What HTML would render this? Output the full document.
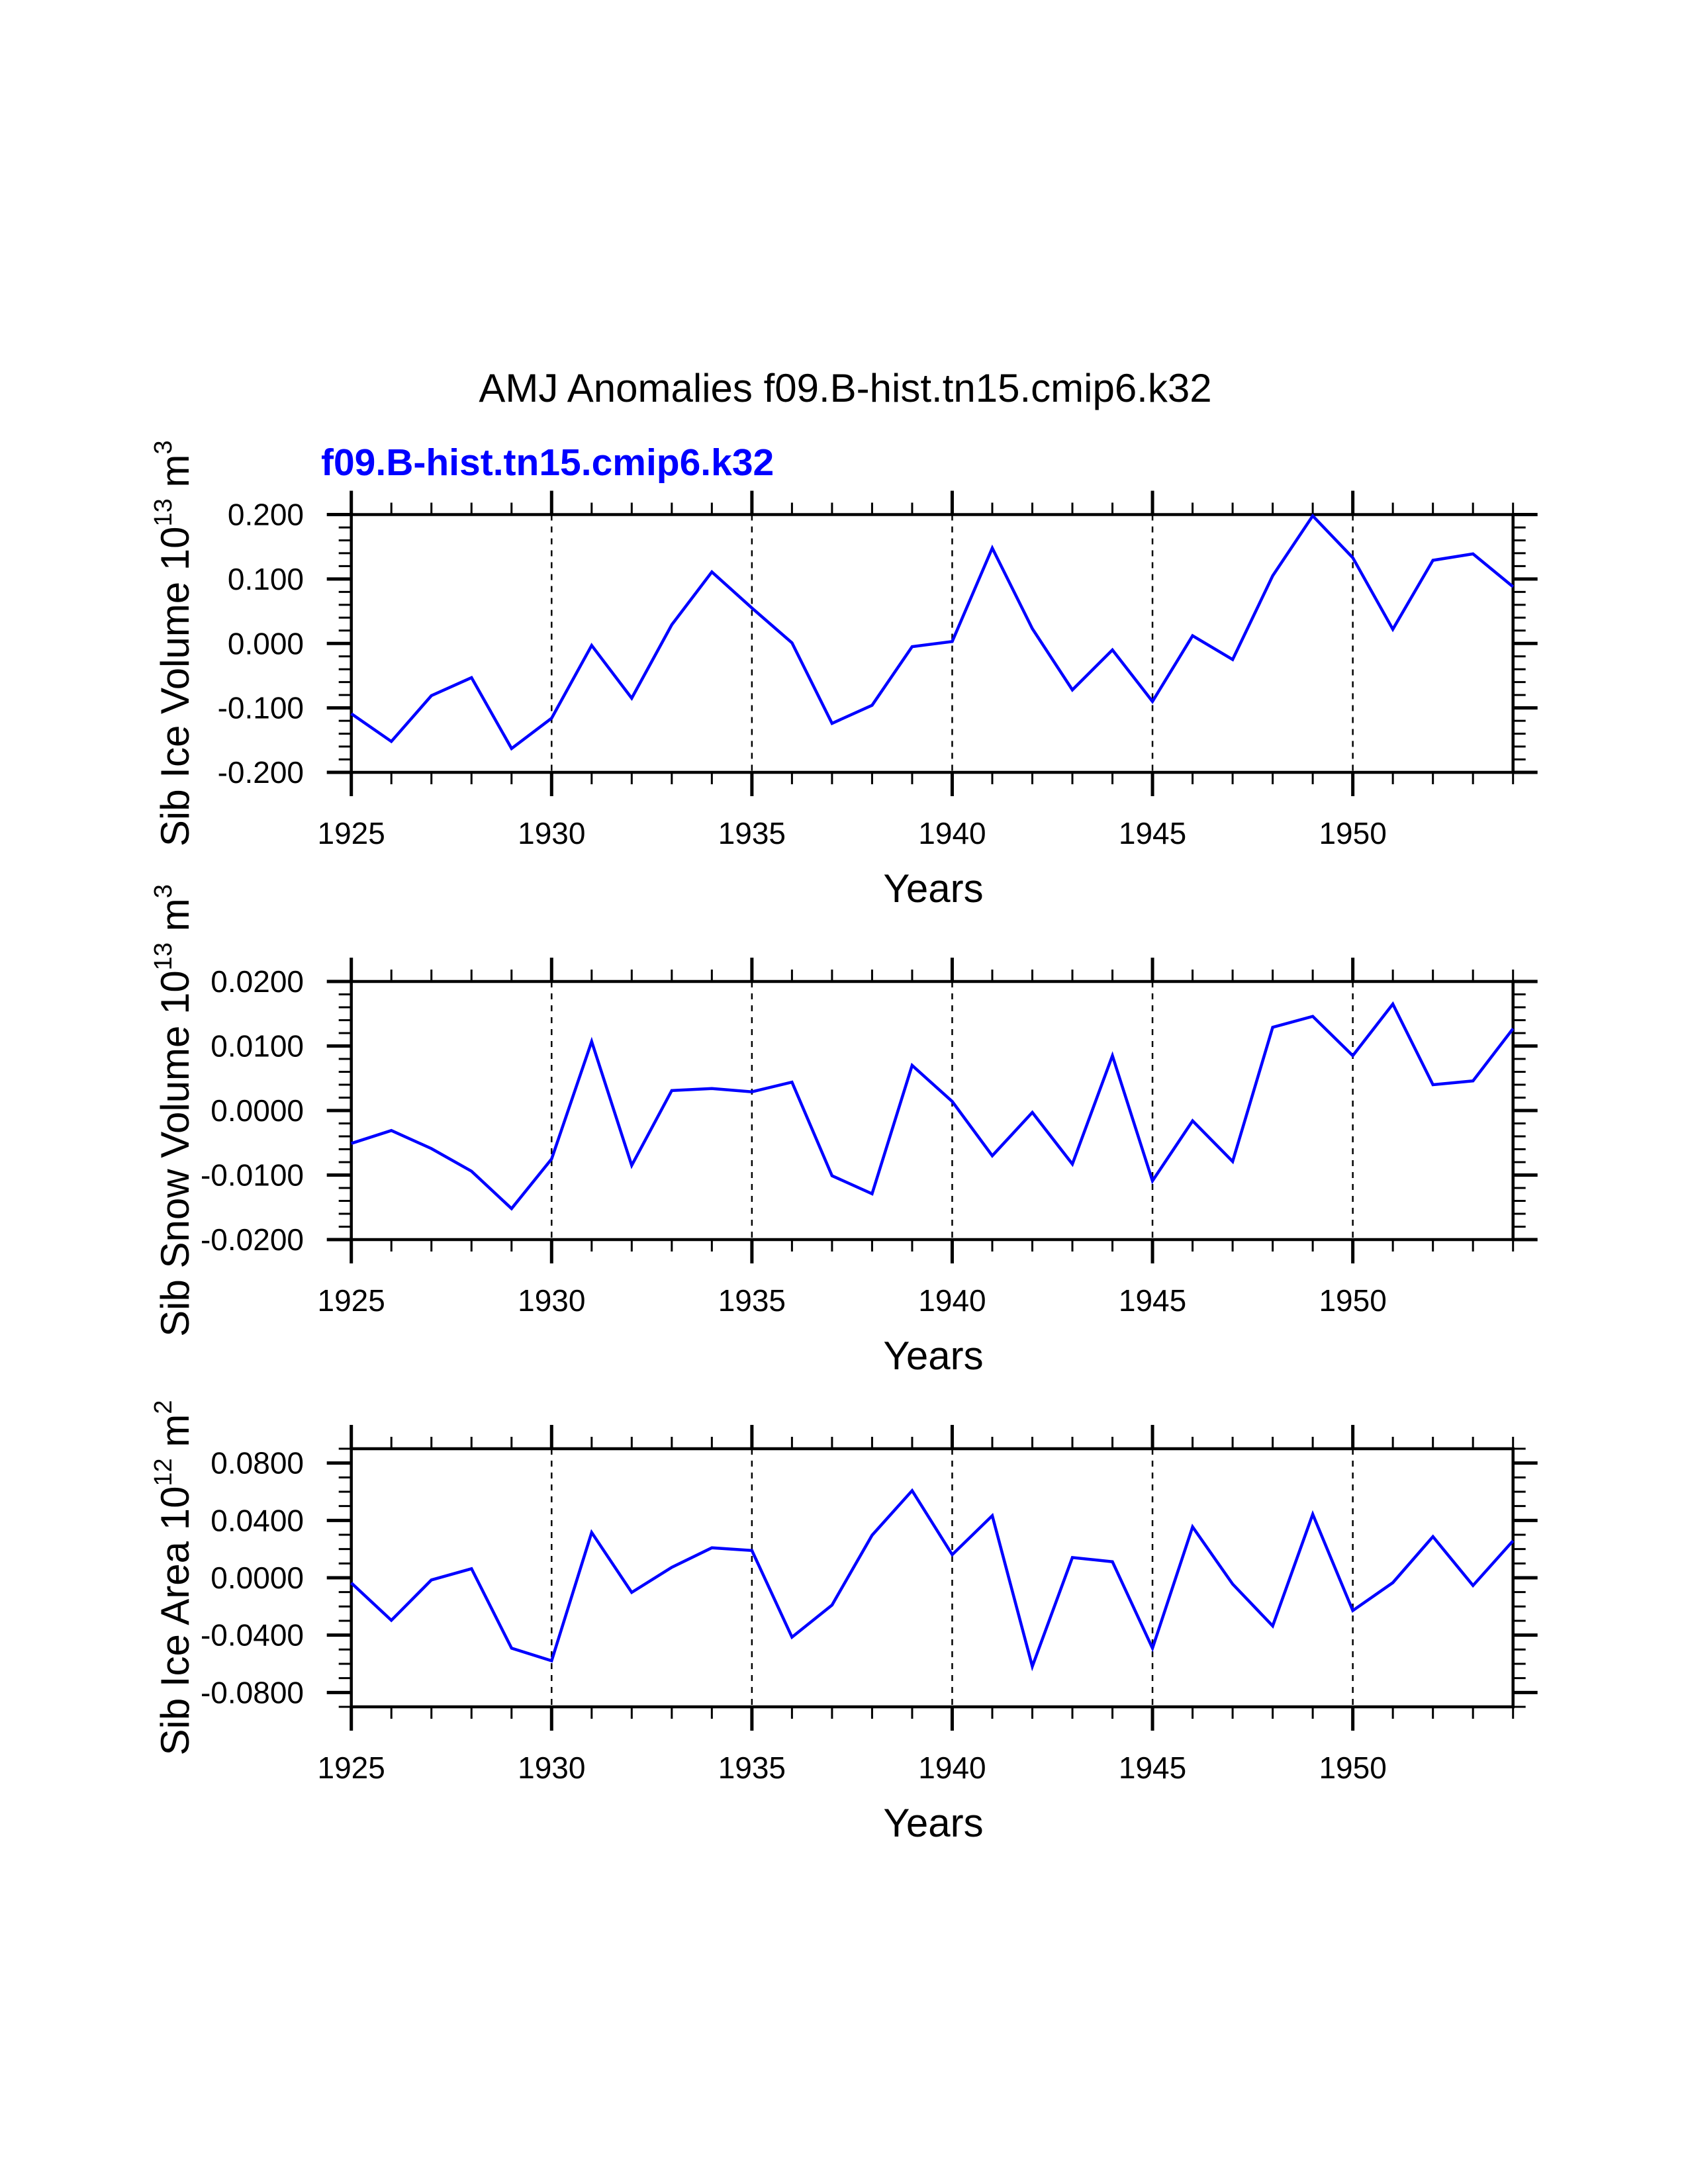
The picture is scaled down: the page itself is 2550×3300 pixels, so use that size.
<!DOCTYPE html>
<html><head><meta charset="utf-8"><style>
html,body{margin:0;padding:0;background:#fff;}
svg{display:block;}
text{font-family:"Liberation Sans",sans-serif;}
</style></head>
<body>
<svg id="chart" width="2550" height="3300" viewBox="0 0 2550 3300" xmlns="http://www.w3.org/2000/svg">
<text x="1277" y="607" font-size="60" text-anchor="middle">AMJ Anomalies f09.B-hist.tn15.cmip6.k32</text>
<text x="485" y="718" font-size="57" font-weight="bold" fill="#0000ff">f09.B-hist.tn15.cmip6.k32</text>
</svg>
<script>
const years = [1925,1926,1927,1928,1929,1930,1931,1932,1933,1934,1935,1936,1937,1938,1939,1940,1941,1942,1943,1944,1945,1946,1947,1948,1949,1950,1951,1952,1953,1954];
const iceVolume = [-0.109,-0.152,-0.081,-0.053,-0.163,-0.116,-0.003,-0.085,0.029,0.111,0.055,0.001,-0.124,-0.096,-0.005,0.003,0.148,0.023,-0.072,-0.010,-0.090,0.012,-0.025,0.105,0.198,0.133,0.022,0.129,0.139,0.088];
const snowVolume = [-0.0051,-0.0031,-0.0059,-0.0094,-0.0152,-0.0075,0.0107,-0.0085,0.0031,0.0034,0.0029,0.0044,-0.0101,-0.0129,0.0070,0.0014,-0.0070,-0.0003,-0.0083,0.0085,-0.0109,-0.0016,-0.0079,0.0129,0.0146,0.0085,0.0165,0.0040,0.0046,0.0127];
const iceArea = [-0.0036,-0.0297,-0.0015,0.0063,-0.0491,-0.0579,0.0316,-0.0102,0.0073,0.0209,0.0190,-0.0414,-0.0190,0.0297,0.0608,0.0161,0.0433,-0.0618,0.0141,0.0112,-0.0491,0.0355,-0.0044,-0.0336,0.0443,-0.0229,-0.0034,0.0287,-0.0054,0.0258];
const iceVolumeTicks = ["-0.200","-0.100","0.000","0.100","0.200"];
const snowVolumeTicks = ["-0.0200","-0.0100","0.0000","0.0100","0.0200"];
const iceAreaTicks = ["-0.0800","-0.0400","0.0000","0.0400","0.0800"];
const xTickLabels = ["1925","1930","1935","1940","1945","1950"];

const NS = "http://www.w3.org/2000/svg";
const svg = document.getElementById('chart');
const X0 = 530.7, X1 = 2285.7;
function mk(tag, attrs, parent){
  const e = document.createElementNS(NS, tag);
  for (const k in attrs) e.setAttribute(k, attrs[k]);
  parent.appendChild(e); return e;
}
function xs(yr){ return X0 + (yr - 1925) / (1954 - 1925) * (X1 - X0); }

function panel(id, top, bottom, ymin, ymax, majorStep, minorStep, tickLabels, values, titleMain, sup, unit, unitSup){
  const g = mk('g', {}, svg);
  
  
  const ys = v => bottom - (v - ymin) / (ymax - ymin) * (bottom - top);
  for (let yr = 1930; yr <= 1950; yr += 5) {
    const l = mk('line', {x1: xs(yr), x2: xs(yr), y1: top, y2: bottom, stroke: '#000', 'stroke-width': 2.5, 'stroke-dasharray': '9,9'}, g);
    
    
  }
  for (let yr = 1925; yr <= 1954; yr++) {
    const major = (yr % 5 === 0);
    const len = major ? 36 : 18, w = major ? 5 : 3;
    mk('line', {x1: xs(yr), x2: xs(yr), y1: top, y2: top - len, stroke: '#000', 'stroke-width': w}, g);
    mk('line', {x1: xs(yr), x2: xs(yr), y1: bottom, y2: bottom + len, stroke: '#000', 'stroke-width': w}, g);
  }
  xTickLabels.forEach(t => {
    const tx = mk('text', {x: xs(+t), y: bottom + 108, 'font-size': 46, 'text-anchor': 'middle'}, g);
    
    
    tx.textContent = t;
  });
  const nMinor = Math.round((ymax - ymin) / minorStep);
  for (let i = 0; i <= nMinor; i++) {
    const v = ymin + i * minorStep;
    const major = tickLabels.some(t => Math.abs(+t - v) < minorStep / 10);
    const len = major ? 37 : 19, w = major ? 5 : 3;
    mk('line', {x1: X0, x2: X0 - len, y1: ys(v), y2: ys(v), stroke: '#000', 'stroke-width': w}, g);
    mk('line', {x1: X1, x2: X1 + len, y1: ys(v), y2: ys(v), stroke: '#000', 'stroke-width': w}, g);
  }
  tickLabels.forEach(t => {
    const tx = mk('text', {x: 459, y: ys(+t) + 16, 'font-size': 46, 'text-anchor': 'end'}, g);
    
    
    tx.textContent = t;
  });
  const b = mk('rect', {x: X0, y: top, width: X1 - X0, height: bottom - top, fill: 'none', stroke: '#000', 'stroke-width': 4.5}, g);
  
  
  const pts = values.map((v, i) => xs(years[i]).toFixed(1) + ',' + ys(v).toFixed(1)).join(' ');
  const pl = mk('polyline', {points: pts, fill: 'none', stroke: '#0000ff', 'stroke-width': 4.5, 'stroke-linejoin': 'miter'}, g);
  
  
  const xt = mk('text', {x: 1410, y: bottom + 196, 'font-size': 60, 'text-anchor': 'middle'}, g);
  
  
  xt.textContent = 'Years';
  const cy = (top + bottom) / 2;
  const yt = mk('text', {x: 0, y: 0, 'font-size': 60, 'text-anchor': 'middle', transform: 'translate(285,' + cy + ') rotate(-90)'}, g);
  
  
  const s1 = mk('tspan', {}, yt); s1.textContent = titleMain;
  const s2 = mk('tspan', {dy: -26, 'font-size': 38}, yt); s2.textContent = sup;
  const s3 = mk('tspan', {dy: 26}, yt); s3.textContent = ' ' + unit;
  const s4 = mk('tspan', {dy: -26, 'font-size': 38}, yt); s4.textContent = unitSup;
}
panel('ice-volume', 777.5, 1167, -0.2, 0.2, 0.1, 0.02, iceVolumeTicks, iceVolume, 'Sib Ice Volume 10', '13', 'm', '3');
panel('snow-volume', 1483, 1873, -0.02, 0.02, 0.01, 0.002, snowVolumeTicks, snowVolume, 'Sib Snow Volume 10', '13', 'm', '3');
panel('ice-area', 2189, 2579, -0.09, 0.09, 0.04, 0.01, iceAreaTicks, iceArea, 'Sib Ice Area 10', '12', 'm', '2');
</script>
</body></html>
